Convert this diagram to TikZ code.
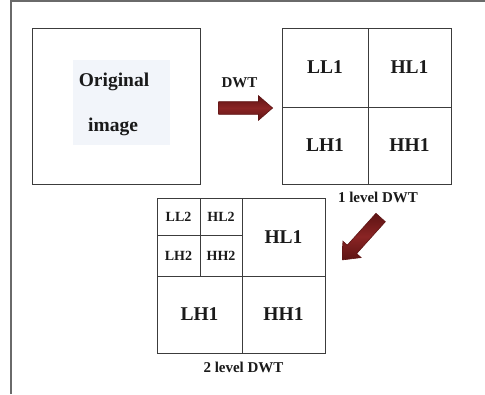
\documentclass[tikz,border=0pt]{standalone}
\usepackage{fontspec}
\setmainfont{Liberation Serif}
\usetikzlibrary{shapes.arrows}
\definecolor{linegray}{HTML}{3C3C3C}
\definecolor{framegray}{HTML}{6A6A6A}
\definecolor{arrowred}{HTML}{8A2424}
\definecolor{arrowdark}{HTML}{5E1414}
\definecolor{paleblue}{HTML}{F2F5FA}
\definecolor{ink}{HTML}{1A1A1A}
\begin{document}
\begin{tikzpicture}[x=1pt,y=-1pt,
  cell/.style={draw=linegray, line width=1pt, inner sep=0pt, text=ink},
  big/.style={font=\bfseries\fontsize{19.5}{20}\selectfont},
  small/.style={font=\bfseries\fontsize{14}{14}\selectfont},
  caption/.style={font=\bfseries\fontsize{15}{15}\selectfont, text=ink, inner sep=0pt},
  blockarrow/.style={single arrow, draw=arrowdark, line width=0.6pt,
    top color=arrowdark, bottom color=arrowdark, middle color=arrowred,
    single arrow head extend=6pt, single arrow tip angle=82,
    inner xsep=0pt, inner ysep=6pt}]
\useasboundingbox (0,0) rectangle (485,394);
\fill[white] (0,0) rectangle (485,394);
\draw[framegray, line width=1.5pt] (11,394) -- (11,1) -- (485,1);

% original image
\node[cell, minimum width=168pt, minimum height=156pt] (orig) at (116,106) {};
\node[fill=paleblue, minimum width=97pt, minimum height=85pt, inner sep=0pt] (origbg) at (121.5,102.5) {};
\node[big, text=ink, inner sep=0pt] (origt1) at (114,82) {Original};
\node[big, text=ink, inner sep=0pt, anchor=base] (origt2) at (113,131) {image};

% DWT arrow
\node[caption] (dwtlbl) at (239.5,83) {DWT};
\node[blockarrow, minimum height=54pt] (arr1) at (242,108) {};

% 1 level grid
\node[cell, big, minimum width=86pt, minimum height=79pt] (ll1) at (325,67.5) {LL1};
\node[cell, big, minimum width=83pt, minimum height=79pt] (hl1) at (409.5,67.5) {HL1};
\node[cell, big, minimum width=86pt, minimum height=77pt] (lh1) at (325,145.5) {LH1};
\node[cell, big, minimum width=83pt, minimum height=77pt] (hh1) at (409.5,145.5) {HH1};
\node[caption] (cap1) at (378,197) {1 level DWT};

% diagonal arrow
\node[blockarrow, minimum height=57pt, rotate=228] (arr2) at (364,236) {};

% 2 level grid
\node[cell, small, minimum width=43pt, minimum height=37pt] (ll2) at (178.5,216.5) {LL2};
\node[cell, small, minimum width=42pt, minimum height=37pt] (hl2) at (221,216.5) {HL2};
\node[cell, small, minimum width=43pt, minimum height=41pt] (lh2) at (178.5,255.5) {LH2};
\node[cell, small, minimum width=42pt, minimum height=41pt] (hh2) at (221,255.5) {HH2};
\node[cell, big, minimum width=83pt, minimum height=78pt] (hl1b) at (283.5,237) {HL1};
\node[cell, big, minimum width=85pt, minimum height=77pt] (lh1b) at (199.5,314.5) {LH1};
\node[cell, big, minimum width=83pt, minimum height=77pt] (hh1b) at (283.5,314.5) {HH1};
\node[caption] (cap2) at (243.5,367) {2 level DWT};
\end{tikzpicture}
\end{document}
